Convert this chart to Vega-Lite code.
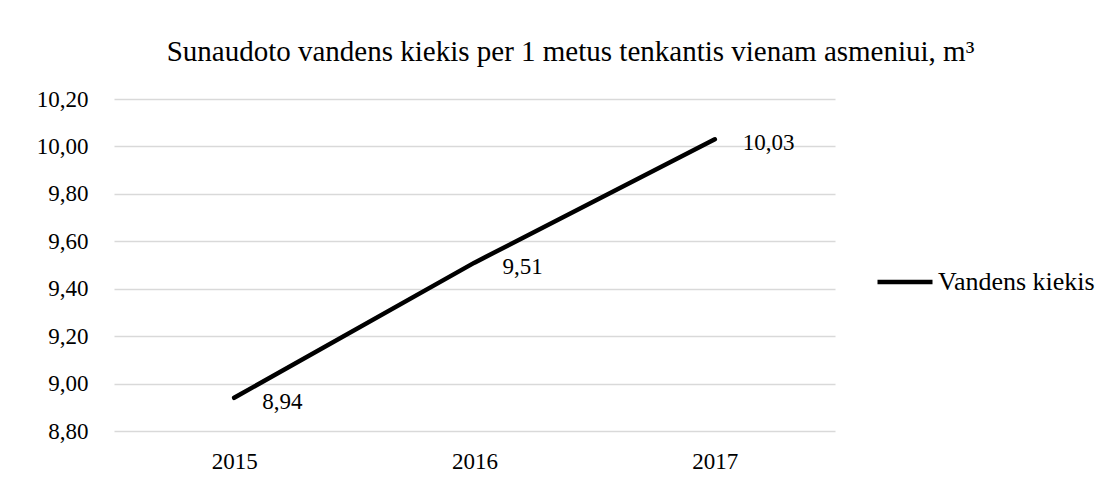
{
  "$schema": "https://vega.github.io/schema/vega-lite/v6.json",
  "autosize": "none",
  "width": 721,
  "height": 332,
  "padding": {"left": 114, "top": 99, "right": 277, "bottom": 52},
  "background": "white",
  "config": {
    "font": "Liberation Serif",
    "view": {"stroke": null},
    "locale": {"number": {"decimal": ",", "thousands": " ", "grouping": [3], "currency": ["", " €"]}}
  },
  "title": {
    "text": "Sunaudoto vandens kiekis per 1 metus tenkantis vienam asmeniui, m³",
    "font": "Liberation Serif",
    "fontSize": 29,
    "fontWeight": "normal",
    "color": "#000000",
    "anchor": "middle",
    "dx": 96,
    "offset": 21
  },
  "data": {
    "values": [
      {"year": "2015", "value": 8.94, "series": "Vandens kiekis"},
      {"year": "2016", "value": 9.51, "series": "Vandens kiekis"},
      {"year": "2017", "value": 10.03, "series": "Vandens kiekis"}
    ]
  },
  "encoding": {
    "x": {
      "field": "year",
      "type": "ordinal",
      "scale": {"type": "point", "padding": 0.5},
      "axis": {
        "title": null,
        "labelAngle": 0,
        "labelFont": "Liberation Serif",
        "labelFontSize": 23,
        "labelColor": "#000000",
        "labelPadding": 19,
        "ticks": false,
        "domain": false,
        "grid": false
      }
    },
    "y": {
      "field": "value",
      "type": "quantitative",
      "scale": {"domain": [8.8, 10.2], "nice": false, "zero": false},
      "axis": {
        "title": null,
        "values": [8.8, 9.0, 9.2, 9.4, 9.6, 9.8, 10.0, 10.2],
        "format": ".2f",
        "labelFont": "Liberation Serif",
        "labelFontSize": 23,
        "labelColor": "#000000",
        "labelPadding": 26,
        "ticks": false,
        "domain": false,
        "grid": true,
        "gridColor": "#d9d9d9",
        "gridWidth": 1.5
      }
    }
  },
  "layer": [
    {
      "mark": {"type": "line", "strokeWidth": 4.5, "strokeCap": "round", "strokeJoin": "round"},
      "encoding": {
        "color": {
          "field": "series",
          "type": "nominal",
          "scale": {"range": ["#000000"]},
          "legend": {
            "title": null,
            "orient": "none",
            "legendX": 761,
            "legendY": 153,
            "symbolType": "stroke",
            "symbolSize": 3025,
            "symbolStrokeWidth": 4.5,
            "symbolStrokeColor": "#000000",
            "labelFont": "Liberation Serif",
            "labelFontSize": 26,
            "labelColor": "#000000",
            "labelOffset": 3
          }
        }
      }
    },
    {
      "mark": {"type": "text", "align": "left", "baseline": "middle", "dx": 28, "dy": 4, "font": "Liberation Serif", "fontSize": 23, "color": "#000000"},
      "encoding": {
        "text": {"field": "value", "type": "quantitative", "format": ".2f"}
      }
    }
  ]
}
